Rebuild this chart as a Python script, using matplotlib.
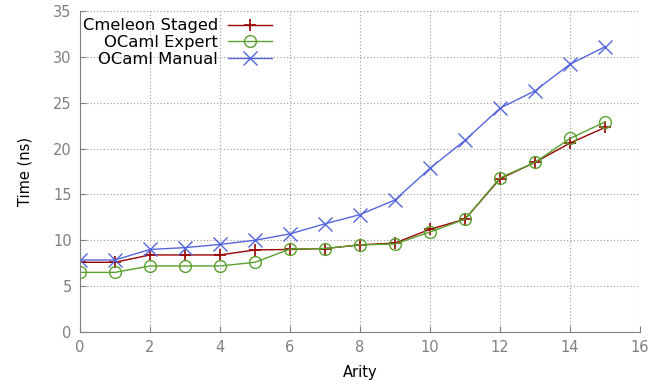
import matplotlib
matplotlib.use("Agg")
import matplotlib.pyplot as plt

# ── data ──────────────────────────────────────────────────────────────────
arity = list(range(16))
cmeleon_staged = [7.6, 7.6, 8.4, 8.4, 8.4, 8.95, 9.0, 9.1, 9.5, 9.7,
                  11.2, 12.3, 16.7, 18.5, 20.6, 22.3]
ocaml_expert = [6.5, 6.5, 7.2, 7.2, 7.2, 7.6, 9.05, 9.1, 9.5, 9.6,
                10.9, 12.3, 16.8, 18.5, 21.1, 22.9]
ocaml_manual = [7.85, 7.85, 9.0, 9.2, 9.55, 10.0, 10.7, 11.8, 12.8, 14.4,
                17.85, 20.9, 24.4, 26.3, 29.2, 31.1]

fig = plt.figure(figsize=(6.6, 3.85), dpi=100)
ax = fig.add_axes([0.1212, 0.1377, 0.8485, 0.8337])

ax.plot(arity, cmeleon_staged, color="#990000", lw=1.0, marker="+",
        ms=9, mew=1.2, label="Cmeleon Staged")
ax.plot(arity, ocaml_expert, color="#5aa02c", lw=1.0, marker="o",
        ms=8.5, mfc="none", mew=1.0, label="OCaml Expert")
ax.plot(arity, ocaml_manual, color="#5566dd", lw=1.0, marker="x",
        ms=9.5, mew=1.0, label="OCaml Manual")

ax.set_xlim(0, 16)
ax.set_ylim(0, 35)
ax.set_xticks(range(0, 17, 2))
ax.set_yticks(range(0, 36, 5))
ax.grid(True, color="#999999", linestyle=(0, (1, 2)), linewidth=0.8)
for s in ("top", "right"):
    ax.spines[s].set_visible(False)
for s in ("left", "bottom"):
    ax.spines[s].set_color("#808080")
ax.tick_params(direction="in", colors="#808080", labelcolor="#808080",
               labelsize=10.5, length=4, pad=6)

ax.set_xlabel("Arity", fontsize=10.5, labelpad=7)
ax.set_ylabel("Time (ns)", fontsize=10.5, labelpad=15)

ax.legend(loc="upper left", markerfirst=False, frameon=False, fontsize=11.8,
          handlelength=2.7, borderaxespad=0.0, labelspacing=0.1,
          handletextpad=0.6, borderpad=0.0, bbox_to_anchor=(0.005, 0.977))
for t in ax.get_legend().get_texts():
    t.set_ha("right")
ax.get_legend()._legend_box.align = "right"

fig.savefig("out.png", dpi=100)
